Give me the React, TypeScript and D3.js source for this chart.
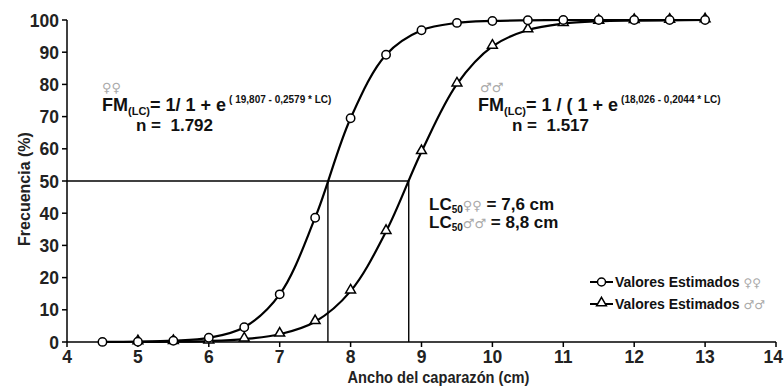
import React from "react";
import * as d3 from "d3";

const W = 784;
const H = 388;

const femaleX = [4.5, 5, 5.5, 6, 6.5, 7, 7.5, 8, 8.5, 9, 9.5, 10, 10.5, 11, 11.5, 12, 12.5, 13];
const femaleY = [0.03, 0.1, 0.4, 1.3, 4.6, 14.8, 38.6, 69.5, 89.2, 96.8, 99.1, 99.7, 99.9, 100, 100, 100, 100, 100];
const maleX = [5, 5.5, 6, 6.5, 7, 7.5, 8, 8.5, 9, 9.5, 10, 10.5, 11, 11.5, 12, 12.5, 13];
const maleY = [0.04, 0.1, 0.3, 0.9, 2.4, 6.3, 15.8, 34.3, 59.1, 80.1, 91.8, 96.9, 98.9, 99.6, 99.8, 99.9, 100];
const xTicks = [4, 5, 6, 7, 8, 9, 10, 11, 12, 13, 14];
const yTicks = [0, 10, 20, 30, 40, 50, 60, 70, 80, 90, 100];
const lc50Female = 7.68;
const lc50Male = 8.82;

const FONT = "'Liberation Sans', Arial, sans-serif";
const SYM = "'DejaVu Sans', sans-serif";

export default function App() {
  const x = d3.scaleLinear().domain([4, 14]).range([67, 776]);
  const y = d3.scaleLinear().domain([0, 100]).range([342, 20]);
  const line = d3
    .line<[number, number]>()
    .x((d) => x(d[0]))
    .y((d) => y(d[1]))
    .curve(d3.curveCatmullRom.alpha(0.5));
  const fPts = femaleX.map((v, i) => [v, femaleY[i]] as [number, number]);
  const mPts = maleX.map((v, i) => [v, maleY[i]] as [number, number]);
  const tri = d3.symbol().type(d3.symbolTriangle).size(42)();

  return (
    <div style={{ position: "absolute", left: 0, top: 0 }}>
      <svg width={W} height={H} style={{ display: "block", background: "#fff" }}>
        {/* reference lines */}
        <g stroke="#000" strokeWidth={1.4} fill="none">
          <line x1={x(4)} x2={x(lc50Male)} y1={y(50)} y2={y(50)} />
          <line x1={x(lc50Female)} x2={x(lc50Female)} y1={y(50)} y2={y(0)} />
          <line x1={x(lc50Male)} x2={x(lc50Male)} y1={y(50)} y2={y(0)} />
        </g>
        {/* axes */}
        <g stroke="#000" strokeWidth={1.5}>
          <line x1={x(4)} x2={x(14)} y1={y(0)} y2={y(0)} />
          <line x1={x(4)} x2={x(4)} y1={y(0)} y2={y(100)} />
          {xTicks.map((t) => (
            <line key={"xt" + t} x1={x(t)} x2={x(t)} y1={y(0)} y2={y(0) + 5} />
          ))}
          {yTicks.map((t) => (
            <line key={"yt" + t} x1={x(4) - 5} x2={x(4)} y1={y(t)} y2={y(t)} />
          ))}
        </g>
        <g fontFamily={FONT} fontWeight="bold" fontSize={17.5} fill="#222">
          {xTicks.map((t) => (
            <text key={"xl" + t} x={t === 14 ? 783 : x(t)} y={y(0) + 21} textAnchor={t === 14 ? "end" : "middle"}>
              {t}
            </text>
          ))}
          {yTicks.map((t) => (
            <text key={"yl" + t} x={x(4) - 8} y={y(t) + 6.5} textAnchor="end">
              {t}
            </text>
          ))}
        </g>
        {/* axis titles */}
        <text
          transform={`translate(${(x(4) + x(14)) / 2 + 17}, 383) scale(0.86, 1)`}
          textAnchor="middle"
          fontFamily={FONT}
          fontWeight="bold"
          fontSize={17}
          fill="#222"
        >
          Ancho del caparazón  (cm)
        </text>
        <text
          transform={`translate(30, ${y(50) + 8}) rotate(-90)`}
          textAnchor="middle"
          fontFamily={FONT}
          fontWeight="bold"
          fontSize={16}
          fill="#222"
        >
          Frecuencia (%)
        </text>
        {/* curves */}
        <path d={line(fPts) || ""} fill="none" stroke="#000" strokeWidth={2.2} />
        <path d={line(mPts) || ""} fill="none" stroke="#000" strokeWidth={2.2} />
        {mPts.map((p, i) => (
          <path
            key={"m" + i}
            d={tri || ""}
            transform={`translate(${x(p[0])},${y(p[1]) - 1})`}
            fill="#fff"
            stroke="#000"
            strokeWidth={1.5}
          />
        ))}
        {fPts.map((p, i) => (
          <circle key={"f" + i} cx={x(p[0])} cy={y(p[1])} r={4.2} fill="#fff" stroke="#000" strokeWidth={1.5} />
        ))}
        {/* female formula */}
        <text x={102} y={92} fontFamily={SYM} fontSize={13} fill="#aaa">♀♀</text>
        <text x={102} y={111} fontFamily={FONT} fontWeight="bold" fill="#111" fontSize={18}>
          FM
          <tspan fontSize={11} dy={4}>(LC)</tspan>
          <tspan dy={-4}>= 1/ 1 + e</tspan>
          <tspan fontSize={10} dy={-8} dx={3}>( 19,807 - 0,2579  * LC)</tspan>
        </text>
        <text x={136} y={131} fontFamily={FONT} fontWeight="bold" fill="#111" fontSize={17} xmlSpace="preserve">
          n =  1.792
        </text>
        {/* male formula */}
        <text x={480} y={92} fontFamily={SYM} fontSize={13} fill="#aaa">♂♂</text>
        <text x={478} y={111} fontFamily={FONT} fontWeight="bold" fill="#111" fontSize={18}>
          FM
          <tspan fontSize={11} dy={4}>(LC)</tspan>
          <tspan dy={-4}>= 1 / ( 1 + e</tspan>
          <tspan fontSize={10} dy={-8} dx={3}>(18,026 - 0,2044 * LC)</tspan>
        </text>
        <text x={512} y={131} fontFamily={FONT} fontWeight="bold" fill="#111" fontSize={17} xmlSpace="preserve">
          n =  1.517
        </text>
        {/* LC50 */}
        <text x={429} y={210} fontFamily={FONT} fontWeight="bold" fill="#111" fontSize={17}>
          LC
          <tspan fontSize={10} dy={3}>50</tspan>
          <tspan fontFamily={SYM} fontWeight="normal" fontSize={13} fill="#aaa" dy={-3}>♀♀</tspan>
          <tspan> = 7,6 cm</tspan>
        </text>
        <text x={429} y={228} fontFamily={FONT} fontWeight="bold" fill="#111" fontSize={17}>
          LC
          <tspan fontSize={10} dy={3}>50</tspan>
          <tspan fontFamily={SYM} fontWeight="normal" fontSize={13} fill="#aaa" dy={-3}>♂♂</tspan>
          <tspan> = 8,8 cm</tspan>
        </text>
        {/* legend */}
        <g>
          <line x1={590} x2={613} y1={282} y2={282} stroke="#000" strokeWidth={2} />
          <circle cx={601.5} cy={282} r={4} fill="#fff" stroke="#000" strokeWidth={1.5} />
          <text x={615} y={287} fontFamily={FONT} fontWeight="bold" fontSize={14} fill="#111">
            Valores Estimados
            <tspan fontFamily={SYM} fontWeight="normal" fontSize={12} fill="#aaa" dx={4}>♀♀</tspan>
          </text>
          <line x1={590} x2={613} y1={304} y2={304} stroke="#000" strokeWidth={2} />
          <path d={tri || ""} transform="translate(601.5,303)" fill="#fff" stroke="#000" strokeWidth={1.5} />
          <text x={615} y={309} fontFamily={FONT} fontWeight="bold" fontSize={14} fill="#111">
            Valores Estimados
            <tspan fontFamily={SYM} fontWeight="normal" fontSize={12} fill="#aaa" dx={4}>♂♂</tspan>
          </text>
        </g>
      </svg>
    </div>
  );
}
